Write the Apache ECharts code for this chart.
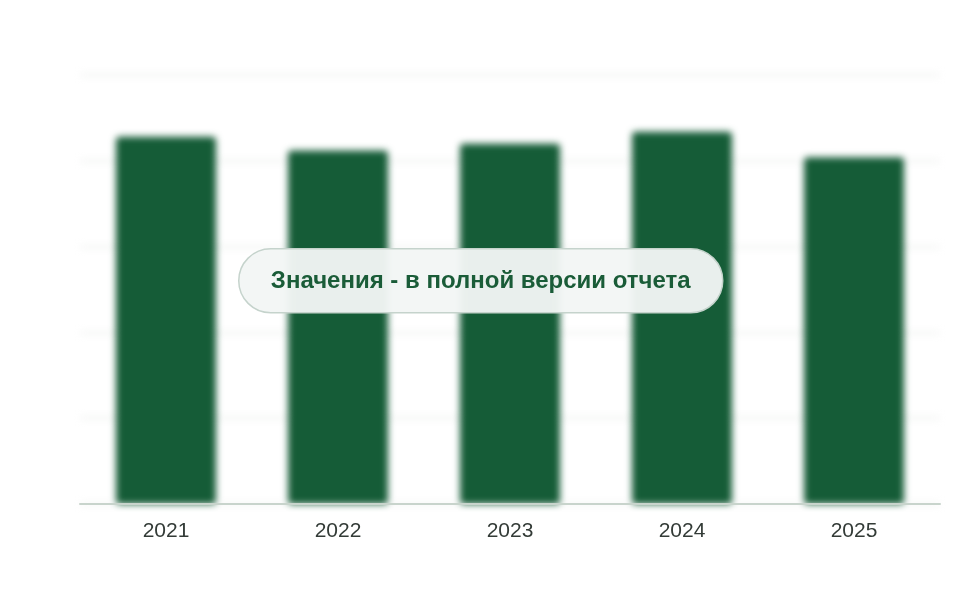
<!DOCTYPE html>
<html>
<head>
<meta charset="utf-8">
<script src="https://cdn.jsdelivr.net/npm/echarts@6/dist/echarts.min.js"></script>
<style>
  html, body { margin: 0; padding: 0; background: #fff; }
  #wrap { position: relative; width: 960px; height: 600px; }
  #blurred, #main { position: absolute; left: 0; top: 0; width: 960px; height: 600px; }
  #blurred { filter: blur(3.5px); }
</style>
</head>
<body>
<div id="wrap">
  <div id="blurred"></div>
  <div id="main"></div>
</div>
<script>
var years = ['2021', '2022', '2023', '2024', '2025'];
var values = [214, 206, 210, 217, 202];
var yMax = 250;
var yStep = 50;

var barColor = '#155c37';

function baseGrid() {
    return { left: 80, right: 20, top: 75, bottom: 96 };
}

// bars + grid lines, blurred behind
var back = echarts.init(document.getElementById('blurred'));
back.setOption({
    animation: false,
    grid: baseGrid(),
    xAxis: {
        type: 'category',
        data: years,
        axisLine: { show: false },
        axisTick: { show: false },
        axisLabel: { show: false }
    },
    yAxis: {
        type: 'value',
        min: 0,
        max: yMax,
        interval: yStep,
        axisLabel: { show: false },
        splitLine: { lineStyle: { color: '#f5f6f5', width: 4 } }
    },
    series: [{
        type: 'bar',
        data: values,
        barWidth: 100,
        itemStyle: { color: barColor, borderRadius: 4 }
    }]
});

// sharp layer: axis, labels, badge
var myChart = echarts.init(document.getElementById('main'));
option = {
    animation: false,
    grid: baseGrid(),
    xAxis: {
        type: 'category',
        data: years,
        axisLine: { lineStyle: { color: '#c8d4cc', width: 2 } },
        axisTick: { show: false },
        axisLabel: {
            color: '#333b37',
            fontSize: 21,
            fontFamily: 'Liberation Sans, Arial, sans-serif',
            margin: 17
        }
    },
    yAxis: {
        type: 'value',
        min: 0,
        max: yMax,
        interval: yStep,
        axisLabel: { show: false },
        splitLine: { show: false }
    },
    series: [{
        type: 'bar',
        data: values,
        barWidth: 100,
        itemStyle: { color: 'rgba(0,0,0,0)' },
        silent: true
    }],
    graphic: [{
        type: 'group',
        left: 238,
        top: 248,
        children: [{
            type: 'rect',
            shape: { x: 0, y: 0, width: 484, height: 64, r: 32 },
            style: { fill: 'rgba(243,246,245,0.96)', stroke: '#c5d3cc', lineWidth: 1.5 }
        }, {
            type: 'text',
            x: 242,
            y: 33,
            style: {
                text: 'Значения - в полной версии отчета',
                fill: '#1a5c38',
                font: 'bold 24px "Liberation Sans", Arial, sans-serif',
                textAlign: 'center',
                textVerticalAlign: 'middle'
            }
        }]
    }]
};
myChart.setOption(option);
</script>
</body>
</html>
